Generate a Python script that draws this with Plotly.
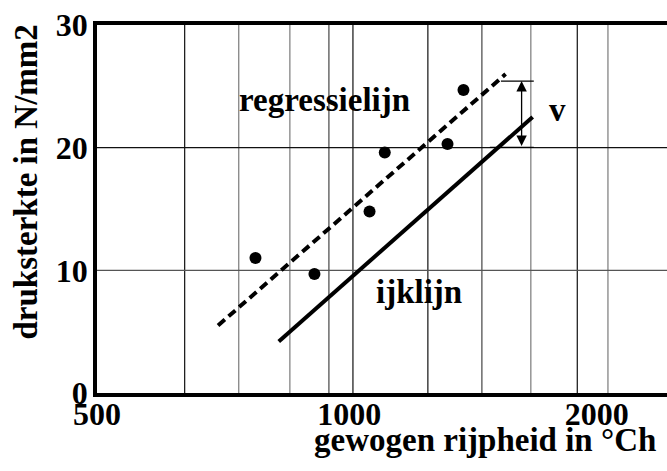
import numpy as np
import plotly.graph_objects as go

# ---- data ----
meas_x = [768, 901, 1046, 1090, 1292, 1349]
meas_y = [11.0, 9.7, 14.8, 19.6, 20.3, 24.7]

regr_x = [694, 1512]
regr_y = [5.5, 26.0]

ijk_x = [818, 1627]
ijk_y = [4.2, 22.5]

grid_x_dark = [634, 1000, 1225, 1836]
grid_x_mid = [937, 1418]
grid_x_light = [734, 843, 1619, 1995]
grid_y_dark = [20]
grid_y_light = [10]

x_tick_vals = [500, 990, 1935]
x_tick_text = ["500", "1000", "2000"]
y_tick_vals = [0, 10, 20, 30]
y_tick_text = ["0", "10", "20", "30"]

v_x = 1579
v_top = 25.43
v_bottom = 20.02
v_top_x = [1493, 1632]
v_bottom_x = [1449, 1632]

x_min, x_max = 500, 2341
y_min, y_max = 0, 30

FONT = "Liberation Serif, Times New Roman, serif"

fig = go.Figure()

def vline(xv, color):
    fig.add_trace(go.Scatter(x=[xv, xv], y=[y_min, y_max], mode="lines",
                             line=dict(color=color, width=1.2),
                             hoverinfo="skip", showlegend=False))

def hline(yv, color):
    fig.add_trace(go.Scatter(x=[x_min, x_max * 1.05], y=[yv, yv], mode="lines",
                             line=dict(color=color, width=1.2),
                             hoverinfo="skip", showlegend=False))

for xv in grid_x_light:
    vline(xv, "#7a7a7a")
for xv in grid_x_mid:
    vline(xv, "#444444")
for xv in grid_x_dark:
    vline(xv, "#111111")
for yv in grid_y_light:
    hline(yv, "#555555")
for yv in grid_y_dark:
    hline(yv, "#111111")

# bracket lines for v
fig.add_trace(go.Scatter(x=v_top_x, y=[v_top, v_top], mode="lines",
                         line=dict(color="black", width=1.2), showlegend=False))
fig.add_trace(go.Scatter(x=v_bottom_x, y=[v_bottom, v_bottom], mode="lines",
                         line=dict(color="black", width=1.2), showlegend=False))

# regression line (dashed)
fig.add_trace(go.Scatter(x=regr_x, y=regr_y, mode="lines",
                         line=dict(color="black", width=4, dash="9px,5px"),
                         showlegend=False))
# calibration line
fig.add_trace(go.Scatter(x=ijk_x, y=ijk_y, mode="lines",
                         line=dict(color="black", width=4),
                         showlegend=False))
# measurements
fig.add_trace(go.Scatter(x=meas_x, y=meas_y, mode="markers",
                         marker=dict(color="black", size=12, symbol="circle"),
                         showlegend=False))

# double arrow v
fig.add_annotation(x=np.log10(v_x), y=v_top, ax=np.log10(v_x), ay=v_bottom,
                   xref="x", yref="y", axref="x", ayref="y", text="",
                   showarrow=True, arrowhead=2, arrowside="end+start",
                   arrowsize=1.6, arrowwidth=1.3, arrowcolor="black",
                   standoff=0, startstandoff=0)

tfont = dict(family=FONT, size=33, color="black", weight="bold")
fig.add_annotation(x=np.log10(926), y=23.9, xref="x", yref="y", text="regressielijn",
                   showarrow=False, font=tfont, xanchor="center", yanchor="middle")
fig.add_annotation(x=np.log10(1196), y=8.2, xref="x", yref="y", text="ijklijn",
                   showarrow=False, font=tfont, xanchor="center", yanchor="middle")
fig.add_annotation(x=np.log10(1738), y=23.1, xref="x", yref="y", text="v",
                   showarrow=False, font=tfont, xanchor="center", yanchor="middle")

# axis titles
fig.add_annotation(x=-0.1246, y=0.5747, xref="paper", yref="paper",
                   text="druksterkte in N/mm2", textangle=-90,
                   showarrow=False, font=tfont, xanchor="center", yanchor="middle")
fig.add_annotation(x=0.6807, y=-0.128, xref="paper", yref="paper",
                   text="gewogen rijpheid in °Ch",
                   showarrow=False, font=tfont, xanchor="center", yanchor="middle")

fig.update_xaxes(type="log", range=[np.log10(x_min), np.log10(x_max)],
                 tickvals=x_tick_vals, ticktext=x_tick_text,
                 showgrid=False, zeroline=False, ticks="",
                 showline=True, linecolor="black", linewidth=3.5, mirror=True,
                 tickfont=dict(family=FONT, size=32, color="black", weight="bold"),
                 ticklabelstandoff=-10)
fig.update_yaxes(range=[y_min, y_max],
                 tickvals=y_tick_vals, ticktext=y_tick_text,
                 showgrid=False, zeroline=False, ticks="",
                 showline=True, linecolor="black", linewidth=3.5, mirror=False,
                 tickfont=dict(family=FONT, size=32, color="black", weight="bold"),
                 ticklabelstandoff=-1)

fig.update_layout(width=667, height=471,
                  margin=dict(l=97, r=0, t=25, b=78),
                  paper_bgcolor="white", plot_bgcolor="white",
                  showlegend=False)

fig.write_html("out.html")
